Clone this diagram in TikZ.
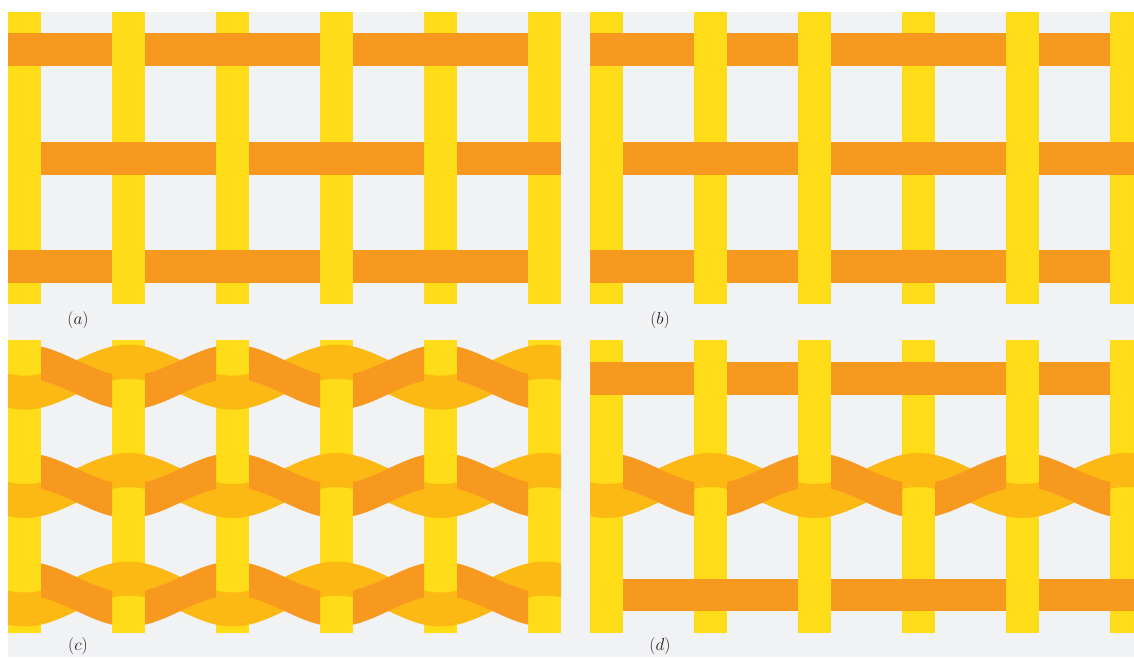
\documentclass[tikz,border=0pt]{standalone}
\usepackage{tikz}
\definecolor{bgc}{HTML}{F1F2F4}
\definecolor{warpc}{HTML}{FEDC17}
\definecolor{weftc}{HTML}{F7991E}
\definecolor{ambc}{HTML}{FCB813}
\definecolor{labc}{HTML}{231F20}
\tikzset{
  warpbar/.style={fill=warpc},
  weftbar/.style={fill=weftc},
  overband/.style={fill=ambc},
  underband/.style={fill=weftc},
  panellabel/.style={font=\fontsize{17}{20}\selectfont, text=labc, inner sep=0pt}
}
% warp columns of one panel: #1 x offset, #2 y offset
\newcommand\warpset[2]{%
  \foreach \k in {0,...,5}
    \path[warpbar] ({#1+8+104*\k},{#2+11.5}) rectangle ++(33,292.5);}
% straight weft: #1 x offset, #2 top y, #3 x end, #4 columns passing over it
\newcommand\weftrow[4]{%
  \path[weftbar] ({#1+8},#2) rectangle (#3,{#2+32.8});
  \foreach \k in {#4}
    \path[warpbar] ({#1+8+104*\k},#2) rectangle ++(33,32.8);}
% wavy weft pair: #1 x offset, #2 x start, #3 x end, #4 centre y
\newcommand\waverow[4]{%
  \path[overband] plot[domain=#2:#3,samples=160] (\x,{#4-18-15.5*cos((\x-#1-128.5)*1.7307692)})
     -- plot[domain=#3:#2,samples=160] (\x,{#4+16-15.5*cos((\x-#1-128.5)*1.7307692)}) -- cycle;
  \begin{scope}
    \clip \foreach \k in {0,...,4} {({#1+41+104*\k},0) rectangle ++(71,657)};
    \path[underband] plot[domain=#2:#3,samples=160] (\x,{#4-18+15.5*cos((\x-#1-128.5)*1.7307692)})
       -- plot[domain=#3:#2,samples=160] (\x,{#4+16+15.5*cos((\x-#1-128.5)*1.7307692)}) -- cycle;
  \end{scope}}
\begin{document}
\begin{tikzpicture}[x=1pt,y=-1pt]
\useasboundingbox (0,0) rectangle (1134,657);
\clip (0,0) rectangle (1134,657);
\fill[white] (0,0) rectangle (1134,657);
\fill[bgc] (8,11.5) rectangle (1134,657);
% (a)
\warpset{0}{0}
\weftrow{0}{33.3}{561}{1,3,5}
\weftrow{0}{141.7}{561}{0,2,4}
\weftrow{0}{250}{561}{1,3,5}
% (b)
\warpset{582}{0}
\weftrow{582}{33.3}{1143}{1,2,4,5}
\weftrow{582}{141.7}{1143}{0,2,4}
\weftrow{582}{250}{1143}{1,2,4,5}
% (c)
\warpset{0}{328.5}
\waverow{0}{8}{561}{378.15}
\waverow{0}{8}{561}{486.5}
\waverow{0}{8}{561}{595}
% (d)
\warpset{582}{328.5}
\weftrow{582}{361.8}{1143}{1,2,4,5}
\waverow{582}{590}{1143}{486.5}
\weftrow{582}{578.5}{1143}{0,2,4}
% labels
\node[panellabel] (la) at (78,320.5) {$(a)$};
\node[panellabel] (lb) at (660,320.5) {$(b)$};
\node[panellabel] (lc) at (78,646.5) {$(c)$};
\node[panellabel] (ld) at (660,646.5) {$(d)$};
\end{tikzpicture}
\end{document}
